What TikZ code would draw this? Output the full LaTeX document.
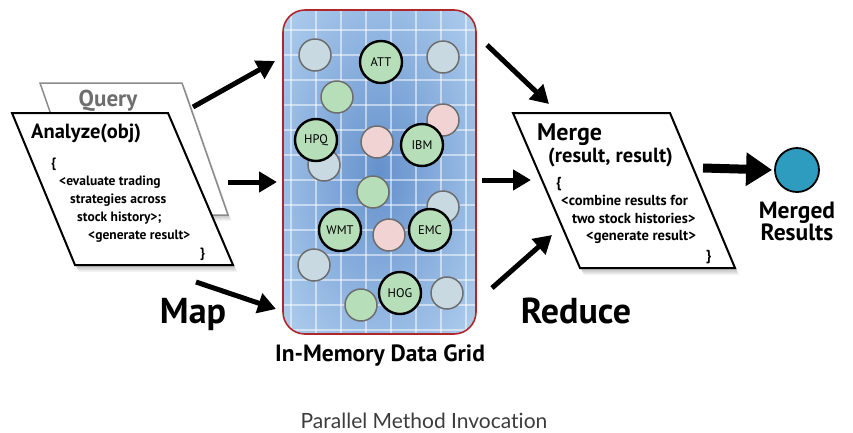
\documentclass[tikz,border=0pt]{standalone}
\usepackage{fontspec}
\setmainfont{PT Sans}
\newfontfamily\captionfont[Ligatures=NoCommon]{Lato}
\usetikzlibrary{arrows.meta}

\definecolor{gridedge}{HTML}{AACAEC}
\definecolor{gridmid}{HTML}{6591CC}
\definecolor{gridframe}{HTML}{B0262B}
\definecolor{ballblue}{HTML}{C9D9E2}
\definecolor{ballgreen}{HTML}{B6DEB8}
\definecolor{ballpink}{HTML}{F1D3D4}
\definecolor{ballrim}{HTML}{6E6E6E}
\definecolor{resultball}{HTML}{2E9CBE}
\definecolor{querygray}{HTML}{6E6E6E}
\definecolor{captiongray}{HTML}{3C3C3C}

\tikzset{
  ball/.style={circle, minimum size=32pt, inner sep=0pt, line width=1.5pt, draw=ballrim},
  blueball/.style={ball, fill=ballblue},
  greenball/.style={ball, fill=ballgreen},
  pinkball/.style={ball, fill=ballpink},
  keyball/.style={circle, minimum size=42pt, inner sep=0pt, line width=2.4pt, draw=black,
    fill=ballgreen, font=\fontsize{12.5}{14}\selectfont},
  flowarrow/.style={line width=5pt, -{Triangle[length=18pt, width=20pt]}},
  bigarrow/.style={line width=9pt, -{Triangle[length=26pt, width=32pt]}},
  atext/.style={anchor=base west, inner sep=0pt, font=\bfseries\fontsize{13.5}{15}\selectfont},
  mtext/.style={anchor=base west, inner sep=0pt, font=\bfseries\fontsize{14.5}{16}\selectfont},
  bigword/.style={anchor=base, inner sep=0pt, font=\bfseries\fontsize{36}{40}\selectfont},
  gridline/.style={white, opacity=0.5, line width=1.1pt},
}

\begin{document}
\begin{tikzpicture}[x=1pt, y=-1pt]
\useasboundingbox (0,0) rectangle (853,432);

% ---------- Query card (behind) ----------
\foreach \d in {1,...,6}
  \fill[black, opacity=0.045] (40+0.6*\d,83+\d) -- (182+0.6*\d,83+\d) -- (228+0.6*\d,215+\d) -- (86+0.6*\d,215+\d) -- cycle;
\draw[fill=white, draw=querygray!80, line width=1.5pt] (40,83) -- (182,83) -- (228,215) -- (86,215) -- cycle;
\node[anchor=base, inner sep=0pt, text=querygray, font=\bfseries\fontsize{23}{26}\selectfont] (query) at (108,106) {Query};

% ---------- Analyze card ----------
\foreach \d in {1,...,7}
  \fill[black, opacity=0.045] (12+0.6*\d,113+\d) -- (168+0.6*\d,113+\d) -- (233+0.6*\d,265+\d) -- (75+0.6*\d,265+\d) -- cycle;
\draw[fill=white, draw=black, line width=2pt] (12,113) -- (168,113) -- (233,265) -- (75,265) -- cycle;
\node[anchor=base west, inner sep=0pt, font=\bfseries\fontsize{20.5}{24}\selectfont] (analyze) at (31,138) {Analyze(obj)};
\node[atext] (aopen) at (51,167) {\{};
\node[atext] (a1) at (59,185) {<evaluate trading};
\node[atext] (a2) at (70,203) {strategies across};
\node[atext] (a3) at (77,221) {stock history>;};
\node[atext] (a4) at (88,239) {<generate result>};
\node[atext] (aclose) at (200,257) {\}};

% ---------- In-memory data grid ----------
\begin{scope}
  \clip[rounded corners=22pt] (283,10) rectangle (476,334);
  \shade[inner color=gridmid, outer color=gridedge] (255,-45) rectangle (504,389);
  \foreach \gx in {291,316,...,470}
    \draw[gridline] (\gx,10) -- (\gx,334);
  \foreach \gy in {30,55,...,334}
    \draw[gridline] (283,\gy) -- (476,\gy);
\end{scope}
\draw[draw=gridframe, line width=1.6pt, rounded corners=22pt] (283,10) rectangle (476,334);

% objects stored in the grid
\node[blueball]  (b1) at (315,55) {};
\node[keyball]   (att) at (381,62) {ATT};
\node[blueball]  (b2) at (443,57) {};
\node[greenball] (g1) at (337,97) {};
\node[pinkball]  (p1) at (443,120) {};
\node[blueball]  (b3) at (324,165) {};
\node[keyball]   (hpq) at (316,140) {HPQ};
\node[pinkball]  (p2) at (377,142) {};
\node[keyball]   (ibm) at (422,145) {IBM};
\node[greenball] (g2) at (373,192) {};
\node[blueball]  (b4) at (443,207) {};
\node[keyball]   (wmt) at (340,230) {WMT};
\node[pinkball]  (p3) at (389,235) {};
\node[keyball]   (emc) at (430,230) {EMC};
\node[blueball]  (b5) at (314,265) {};
\node[greenball] (g3) at (361,305) {};
\node[keyball]   (hog) at (400,293) {HOG};
\node[blueball]  (b6) at (447,293) {};

\node[anchor=base, inner sep=0pt, font=\bfseries\fontsize{23.5}{26}\selectfont] (gridlabel) at (380,361) {In-Memory Data Grid};

% ---------- Merge card ----------
\foreach \d in {1,...,7}
  \fill[black, opacity=0.045] (513+0.6*\d,113+\d) -- (670+0.6*\d,113+\d) -- (735+0.6*\d,268+\d) -- (580+0.6*\d,268+\d) -- cycle;
\draw[fill=white, draw=black, line width=2pt] (513,113) -- (670,113) -- (735,268) -- (580,268) -- cycle;
\node[anchor=base west, inner sep=0pt, font=\bfseries\fontsize{24}{27}\selectfont] (merge) at (537,140) {Merge};
\node[anchor=base west, inner sep=0pt, font=\bfseries\fontsize{20.5}{23}\selectfont] (margs) at (548,162) {(result, result)};
\node[mtext] (mopen) at (556,187) {\{};
\node[mtext] (m1) at (561,205) {<combine results for};
\node[mtext] (m2) at (572,223) {two stock histories>};
\node[mtext] (m3) at (586,240) {<generate result>};
\node[mtext] (mclose) at (706,260) {\}};

% ---------- merged result ----------
\node[circle, minimum size=44pt, inner sep=0pt, fill=resultball, draw=black, line width=1.8pt] (result) at (797,170) {};
\node[anchor=base, inner sep=0pt, font=\bfseries\fontsize{23.5}{26}\selectfont] (merged) at (797,218) {Merged};
\node[anchor=base, inner sep=0pt, font=\bfseries\fontsize{23.5}{26}\selectfont] (results) at (797,240) {Results};

% ---------- phase labels ----------
\node[bigword] (map) at (193,323) {Map};
\node[bigword] (reduce) at (576,323) {Reduce};
\node[anchor=base, inner sep=0pt, text=captiongray, font=\captionfont\fontsize{21}{24}\selectfont] (caption) at (424,428) {Parallel Method Invocation};

% ---------- connector end points ----------
\coordinate (q1) at (193,107);  \coordinate (g1in) at (275,61);
\coordinate (q2) at (228,182);  \coordinate (g2in) at (277,182);
\coordinate (q3) at (196,282);  \coordinate (g3in) at (276,309);
\coordinate (r1) at (487,45);   \coordinate (m1in) at (549,104);
\coordinate (r2) at (482,180);  \coordinate (m2in) at (531,180);
\coordinate (r3) at (492,288);  \coordinate (m3in) at (552,235);
\coordinate (mout) at (703,168);

% ---------- connectors ----------
\draw[flowarrow] (q1) -- (g1in);
\draw[flowarrow] (q2) -- (g2in);
\draw[flowarrow] (q3) -- (g3in);
\draw[flowarrow] (r1) -- (m1in);
\draw[flowarrow] (r2) -- (m2in);
\draw[flowarrow] (r3) -- (m3in);
\draw[bigarrow, shorten >=2pt] (mout) -- (result.west);
\end{tikzpicture}
\end{document}
